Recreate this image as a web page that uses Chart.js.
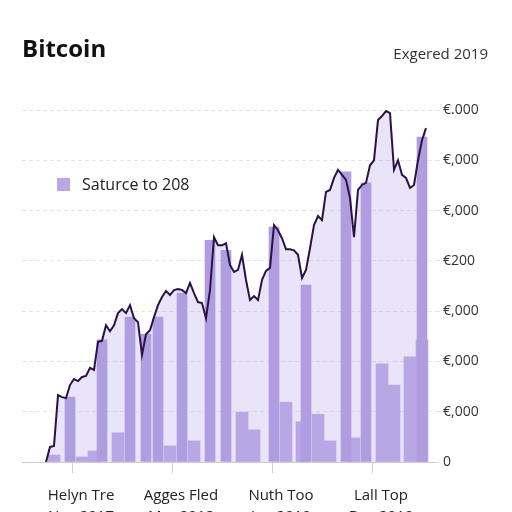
<!DOCTYPE html>
<html>
<head>
<meta charset="utf-8">
<script src="https://cdn.jsdelivr.net/npm/chart.js@4"></script>
<style>
  html, body { margin: 0; padding: 0; background: #fff; }
  #wrap { position: relative; width: 512px; height: 512px; font-family: 'Open Sans', sans-serif; overflow: hidden; }
  #title { position: absolute; left: 22px; top: 31px; font-size: 24px; font-weight: 700; color: #111; line-height: 33px; }
  #sub { position: absolute; right: 24px; top: 43px; font-size: 15px; color: #333; line-height: 20px; }
  #legend { position: absolute; left: 57px; top: 173px; display: flex; align-items: center; font-size: 16px; color: #222; line-height: 22px; }
  #legend .box { width: 13px; height: 13px; background: #b8a7e4; margin-right: 12px; }
  #chart { position: absolute; left: 0; top: 0; }
</style>
</head>
<body>
<div id="wrap">
  <canvas id="chart" width="512" height="512"></canvas>
  <div id="title">Bitcoin</div>
  <div id="sub">Exgered 2019</div>
  <div id="legend"></div>
</div>
<script>
// weekly slots along the x axis
const weeks = Array.from({ length: 104 }, (_, i) => i);

// price line (null where there is no data)
const priceLine = [
  null, null, null, null, null, null,
  0, 300, 320, 1330, 1290, 1270, 1530, 1650, 1610, 1690,
  1710, 1870, 1830, 2390, 2410, 2720, 2600, 2720, 2960, 3040,
  2960, 3120, 2860, 2780, 2130, 2540, 2620, 2880, 3120, 3280,
  3400, 3320, 3420, 3440, 3420, 3360, 3560, 3360, 3180, 3160,
  2860, 3420, 4470, 4310, 4310, 4350, 3920, 3780, 3820, 4120,
  3620, 3220, 3300, 3220, 3620, 3800, 3860, 4710, 4610, 4450,
  4230, 4230, 4210, 4120, 3660, 3820, 4250, 4710, 4890, 4810,
  5370, 5410, 5650, 5810, 5710, 5610, 5250, 4470, 5410, 5510,
  5550, 5900, 6000, 6800, 6880, 6980, 6940, 5810, 6000, 5710,
  5650, 5450, 5510, 6000, 6400, 6640,
  null, null
];

// volume bars: low ones and the ones reaching up to the price
const lowBarWeek = [8, 15, 18, 24, 37, 43, 55, 58, 66, 70, 74, 77, 83, 90, 93, 97, 100];
const lowBarVal  = [140, 100, 220, 580, 320, 420, 990, 640, 1190, 800, 950, 420, 480, 1950, 1530, 2090, 2430];
const highBarWeek = [12, 20, 27, 31, 34, 40, 47, 51, 63, 71, 81, 86, 100];
const highBarVal  = [1290, 2430, 2880, 2540, 2880, 3360, 4410, 4210, 4670, 3520, 5770, 5550, 6460];

// axis labels
const xTickWeek = [13, 38, 63, 88];
const xTickText = [['Helyn Tre', 'Nov 2017'], ['Agges Fled', 'Mar 2018'], ['Nuth Too', 'Jan 2019'], ['Lall Top', 'Dec 2019']];
const yTickText = ['0', '€,000', '€,000', '€,000', '€200', '€,000', '€,000', '€.000'];

const seriesName = 'Saturce to 208';

function spread(idx, vals) {
    const out = new Array(weeks.length).fill(null);
    idx.forEach((w, k) => { out[w] = vals[k]; });
    return out;
}

document.getElementById('legend').innerHTML = '<span class="box"></span><span>' + seriesName + '</span>';

Chart.defaults.font.family = "'Open Sans', sans-serif";

new Chart(document.getElementById('chart').getContext('2d'), {
    data: {
        labels: weeks,
        datasets: [
            {
                type: 'line',
                label: 'Price',
                data: priceLine,
                borderColor: '#2b1245',
                borderWidth: 2,
                backgroundColor: 'rgba(190, 170, 235, 0.32)',
                fill: 'origin',
                pointRadius: 0,
                tension: 0,
                order: 0
            },
            {
                type: 'bar',
                label: seriesName,
                data: spread(lowBarWeek, lowBarVal),
                backgroundColor: '#b8a7e4',
                barThickness: 12,
                grouped: false,
                order: 2
            },
            {
                type: 'bar',
                label: seriesName,
                data: spread(highBarWeek, highBarVal),
                backgroundColor: '#b09de0',
                barThickness: 10,
                grouped: false,
                order: 1
            }
        ]
    },
    options: {
        responsive: false,
        animation: false,
        layout: { padding: { left: 22, top: 110, right: 0, bottom: 0 } },
        plugins: {
            legend: { display: false },
            tooltip: { enabled: false },
            filler: { propagate: false, drawTime: 'beforeDatasetsDraw' }
        },
        scales: {
            x: {
                type: 'category',
                offset: false,
                grid: {
                    display: true,
                    drawOnChartArea: false,
                    drawTicks: true,
                    tickLength: 11,
                    color: function(c) { return xTickWeek.includes(c.index) ? '#cfcfcf' : 'rgba(0,0,0,0)'; }
                },
                border: { display: true, color: '#cccccc' },
                ticks: {
                    autoSkip: false,
                    maxRotation: 0,
                    padding: 12,
                    labelOffset: 7,
                    color: '#222',
                    font: { size: 15, lineHeight: 1.4 },
                    callback: function(v, i) {
                        const k = xTickWeek.indexOf(i);
                        return k < 0 ? '' : xTickText[k];
                    }
                },
                afterFit: function(s) { s.height = 50; }
            },
            y: {
                position: 'right',
                min: 0,
                max: 7000,
                grid: { color: '#e4e4e4', tickLength: 6, drawTicks: true },
                border: { display: false, dash: [4, 3] },
                ticks: {
                    stepSize: 1000,
                    padding: 3,
                    color: '#333',
                    font: { size: 14 },
                    callback: function(v) { return yTickText[Math.round(v / 1000)]; }
                },
                afterFit: function(s) { s.width = 78; }
            }
        }
    }
});
</script>
</body>
</html>
